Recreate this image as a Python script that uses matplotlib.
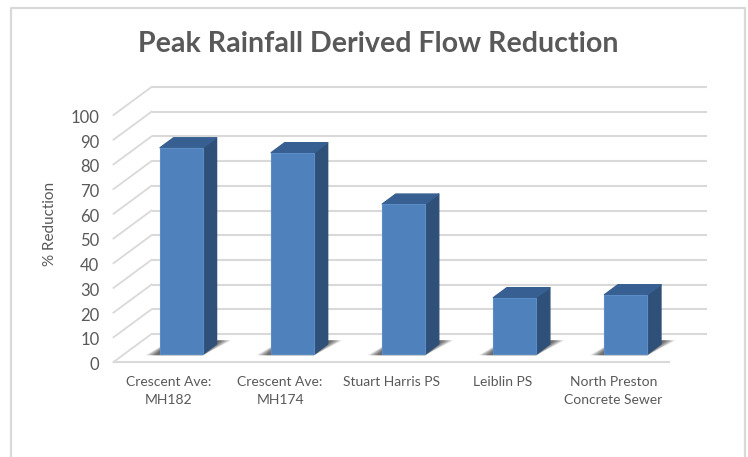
import matplotlib
matplotlib.use("Agg")
import matplotlib.pyplot as plt
from matplotlib.patches import Polygon
from matplotlib.lines import Line2D
from matplotlib.transforms import Affine2D

plt.rcParams['font.family'] = ['Lato', 'DejaVu Sans']

categories = ["Crescent Ave:\nMH182", "Crescent Ave:\nMH174", "Stuart Harris PS",
              "Leiblin PS", "North Preston\nConcrete Sewer"]
reduction = [83.5, 81.5, 60.7, 22.8, 24.0]
y_ticks = [0, 10, 20, 30, 40, 50, 60, 70, 80, 90, 100]

W, H = 748, 457
fig = plt.figure(figsize=(W / 100, H / 100), dpi=100, facecolor="white")

# front plane of the 3d box, in pixels of the reference
left, right, bottom, top = 113.5, 669, 362, 115
ax = fig.add_axes([left / W, 1 - bottom / H, (right - left) / W, (bottom - top) / H])
ax.set_xlim(0, 5)
ax.set_ylim(0, 100)
ax.patch.set_visible(False)
for s in ax.spines.values():
    s.set_visible(False)

# outer chart border
fig.add_artist(Line2D([11 / W, 11 / W, 744.5 / W, 744.5 / W],
                      [0, 1 - 8 / H, 1 - 8 / H, 0],
                      transform=fig.transFigure, color="#d9d9d9", lw=1.6))


def shifted(dx, dy):
    # oblique depth offset, in display pixels
    return ax.transData + Affine2D().translate(dx, dy)


grid_col = "#d9d9d9"
back = shifted(38, 28)
for v in y_ticks:
    # back wall line + side wall line
    ax.plot([0, 5], [v, v], color=grid_col, lw=1.5, transform=back, clip_on=False,
            solid_capstyle="butt", zorder=1)
    xa, ya = ax.transData.transform((0, v))
    ax.add_line(Line2D([xa, xa + 38], [ya, ya + 28], color=grid_col, lw=1.3,
                       transform=None, clip_on=False, zorder=1))
# floor edge at the front
ax.plot([0, 5], [0, 0], color=grid_col, lw=1.5, clip_on=False, zorder=1)

# bars
bar_w = 0.387
bar_t = shifted(12.5, 8)
depth_x = 13.5 / 111
depth_v = 10 / 2.47
for i, val in enumerate(reduction):
    x0 = i + 0.5 - bar_w / 2
    x1 = i + 0.5 + bar_w / 2
    # soft shadow on the floor
    for grow, alpha in [(5, 0.10), (3, 0.16), (1, 0.24), (-2, 0.32), (-5, 0.3)]:
        g = grow / 111
        shadow = [(x0 - 0.09 - g, -0.5), (x1, -0.5), (x1 + depth_x + 0.09 + g, depth_v + 1.5),
                  (x0 + 0.1, depth_v + 1.5)]
        ax.add_patch(Polygon(shadow, closed=True, fc="#3a3a3a", ec="none", alpha=alpha,
                             transform=bar_t, clip_on=False, zorder=2))
    front = [(x0, 0), (x1, 0), (x1, val), (x0, val)]
    side = [(x1, 0), (x1 + depth_x, depth_v), (x1 + depth_x, val + depth_v), (x1, val)]
    cap = [(x0, val), (x1, val), (x1 + depth_x, val + depth_v), (x0 + depth_x, val + depth_v)]
    ax.add_patch(Polygon(side, closed=True, fc="#2f5078", ec="#2f5078", lw=1.0,
                         joinstyle="round", transform=bar_t, clip_on=False, zorder=3))
    ax.add_patch(Polygon(cap, closed=True, fc="#375f91", ec="#375f91", lw=1.0,
                         joinstyle="round", transform=bar_t, clip_on=False, zorder=3))
    ax.add_patch(Polygon(front, closed=True, fc="#4f81bd", ec="#5b8cc6", lw=0.8,
                         transform=bar_t, clip_on=False, zorder=4))

# axis text
ax.set_yticks(y_ticks)
ax.set_xticks([i + 0.5 for i in range(len(categories))])
ax.set_xticklabels(categories, fontsize=10, color="#595959", linespacing=1.6)
ax.tick_params(axis="x", length=0, pad=10)
ax.tick_params(axis="y", length=0, pad=13, labelsize=12, labelcolor="#595959")
for lab in ax.get_yticklabels():
    lab.set_transform(lab.get_transform() + Affine2D().translate(4, -1.5))
ax.set_ylabel("% Reduction", fontsize=11, color="#595959", labelpad=0)
ax.yaxis.set_label_coords((57 - left) / (right - left), (bottom - 224) / (bottom - top))

fig.text(378 / W, 1 - 44 / H, "Peak Rainfall Derived Flow Reduction", fontsize=20.6,
         fontweight="bold", color="#595959", ha="center", va="center")

fig.savefig("out.png", dpi=100)
